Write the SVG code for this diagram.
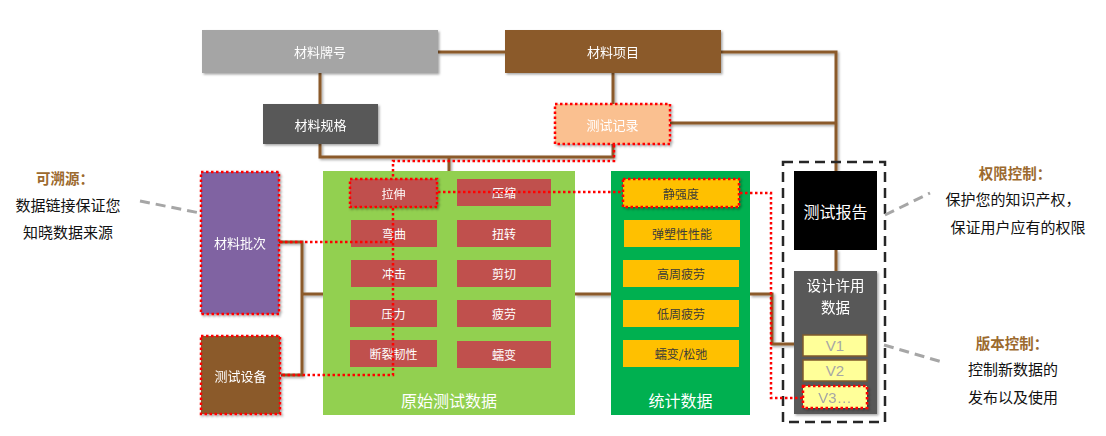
<svg xmlns="http://www.w3.org/2000/svg" width="1106" height="436" viewBox="0 0 1106 436">
<defs>
<filter id="sh" x="-10%" y="-10%" width="130%" height="130%">
<feDropShadow dx="1.5" dy="1.5" stdDeviation="1.2" flood-color="#000" flood-opacity="0.35"/>
</filter>
<filter id="lsh" filterUnits="userSpaceOnUse" x="0" y="0" width="1106" height="436">
<feDropShadow dx="1.5" dy="1.5" stdDeviation="1" flood-color="#000" flood-opacity="0.35"/>
</filter>
<style>
text{font-family:"Noto Sans CJK SC","Microsoft YaHei","Liberation Sans",sans-serif;text-anchor:middle;dominant-baseline:central}
.w{fill:#fff}
.dk{fill:#3a3a3a}
.f13{font-size:13px}
.f12{font-size:12px}
.f16{font-size:16px}
.brown{fill:none;stroke:#8B5A2B;stroke-width:3}
.red{fill:none;stroke:#FF0000;stroke-width:2.5;stroke-dasharray:2.5 2.5}
.ann{fill:none;stroke:#A6A6A6;stroke-width:3;stroke-dasharray:10 6}
.hd{font-size:14.5px;font-weight:bold;fill:#9C6A2E}
.bd{font-size:15px;fill:#111}
.vb{fill:#FFFF99;stroke:#7F5A2B;stroke-width:1.5}
.vt{font-family:"Liberation Sans",Arial,sans-serif;font-size:15px;fill:#A6A6A6}
</style>
</defs>
<rect width="1106" height="436" fill="#fff"/>

<g id="connectors" filter="url(#lsh)">
<path class="brown" d="M438 52H505"/>
<path class="brown" d="M721 52H836V171"/>
<path class="brown" d="M670 123H836"/>
<path class="brown" d="M320 73V104"/>
<path class="brown" d="M613 73V104"/>
<path class="brown" d="M320 144V157H613V144"/>
<path class="brown" d="M449 157V171"/>
<path class="brown" d="M279 242H302V375H281"/>
<path class="brown" d="M302 294H323"/>
<path class="brown" d="M575 294H611"/>
<path class="brown" d="M750 294H772V344H803"/>
<path class="brown" d="M836 250V271"/>
</g>

<g id="report-frame"><rect x="783" y="162" width="102" height="260" fill="none" stroke="#262626" stroke-width="2.5" stroke-dasharray="10 6"/></g>

<g id="n-brand" filter="url(#sh)"><rect x="202" y="30" width="236" height="43" fill="#A5A5A5"/><text class="w f13" x="320" y="51.5">材料牌号</text></g>
<g id="n-item" filter="url(#sh)"><rect x="505" y="30" width="216" height="43" fill="#8B5A2B"/><text class="w f13" x="613" y="51.5">材料项目</text></g>
<g id="n-spec" filter="url(#sh)"><rect x="263" y="104" width="115" height="40" fill="#595959"/><text class="w f13" x="320.5" y="124">材料规格</text></g>
<g id="n-record" filter="url(#sh)"><rect x="555" y="104" width="115" height="40" fill="#FAC090" stroke="#FF0000" stroke-width="2.5" stroke-dasharray="2.5 2.5"/><text class="w f13" x="612.5" y="124">测试记录</text></g>
<g id="n-batch" filter="url(#sh)"><rect x="201" y="172" width="78" height="142" fill="#8064A2" stroke="#FF0000" stroke-width="2.5" stroke-dasharray="2.5 2.5"/><text class="w f13" x="240" y="242">材料批次</text></g>
<g id="n-equip" filter="url(#sh)"><rect x="201" y="336" width="79" height="78" fill="#8B5A2B" stroke="#FF0000" stroke-width="2.5" stroke-dasharray="2.5 2.5"/><text class="w f13" x="240.5" y="375">测试设备</text></g>

<g id="n-raw"><rect x="323" y="171" width="252" height="244" fill="#92D050"/><text class="w f16" x="449" y="400">原始测试数据</text></g>
<g id="n-tension" filter="url(#sh)"><rect x="350" y="179" width="87" height="28" fill="#C0504D" stroke="#FF0000" stroke-width="2.5" stroke-dasharray="2.5 2.5"/><text class="w f12" x="393.5" y="193">拉伸</text></g>
<g id="n-compress"><rect x="457" y="179" width="94" height="27" fill="#C0504D"/><text class="w f12" x="504" y="192.5">压缩</text></g>
<g id="n-bend"><rect x="351" y="220" width="86" height="27" fill="#C0504D"/><text class="w f12" x="394" y="233.5">弯曲</text></g>
<g id="n-torsion"><rect x="457" y="220" width="94" height="27" fill="#C0504D"/><text class="w f12" x="504" y="233.5">扭转</text></g>
<g id="n-impact"><rect x="351" y="260" width="86" height="27" fill="#C0504D"/><text class="w f12" x="394" y="273.5">冲击</text></g>
<g id="n-shear"><rect x="457" y="260" width="94" height="27" fill="#C0504D"/><text class="w f12" x="504" y="273.5">剪切</text></g>
<g id="n-pressure"><rect x="350" y="300" width="87" height="27" fill="#C0504D"/><text class="w f12" x="393.5" y="313.5">压力</text></g>
<g id="n-fatigue"><rect x="457" y="300" width="94" height="27" fill="#C0504D"/><text class="w f12" x="504" y="313.5">疲劳</text></g>
<g id="n-fracture"><rect x="350" y="340" width="87" height="27" fill="#C0504D"/><text class="w f12" x="393.5" y="353.5">断裂韧性</text></g>
<g id="n-creep"><rect x="457" y="341" width="94" height="27" fill="#C0504D"/><text class="w f12" x="504" y="354.5">蠕变</text></g>

<g id="n-stat"><rect x="611" y="171" width="139" height="244" fill="#00B050"/><text class="w f16" x="680.5" y="400">统计数据</text></g>
<g id="n-static" filter="url(#sh)"><rect x="623" y="179" width="116" height="28" fill="#FFC000" stroke="#FF0000" stroke-width="2.5" stroke-dasharray="2.5 2.5"/><text class="dk f12" x="681" y="193">静强度</text></g>
<g id="n-elastoplastic"><rect x="624" y="220" width="116" height="27" fill="#FFC000"/><text class="dk f12" x="682" y="233.5">弹塑性性能</text></g>
<g id="n-hcf"><rect x="623" y="260" width="116" height="27" fill="#FFC000"/><text class="dk f12" x="681" y="273.5">高周疲劳</text></g>
<g id="n-lcf"><rect x="623" y="300" width="116" height="27" fill="#FFC000"/><text class="dk f12" x="681" y="313.5">低周疲劳</text></g>
<g id="n-creeprelax"><rect x="623" y="340" width="116" height="27" fill="#FFC000"/><text class="dk f12" x="681" y="353.5">蠕变/松弛</text></g>

<g id="n-report"><rect x="794" y="171" width="83" height="79" fill="#000"/><text class="w f16" x="835.5" y="210.5">测试报告</text></g>
<g id="n-design" filter="url(#sh)"><rect x="794" y="271" width="83" height="143" fill="#595959"/><text class="w" style="font-size:14.5px" x="835.5" y="284.5">设计许用</text><text class="w" style="font-size:14.5px" x="835.5" y="306">数据</text></g>
<g id="n-v1"><rect class="vb" x="803" y="335" width="64" height="21"/><text class="vt" x="835" y="345.5">V1</text></g>
<g id="n-v2"><rect class="vb" x="803" y="360" width="64" height="21"/><text class="vt" x="835" y="370.5">V2</text></g>
<g id="n-v3" filter="url(#sh)"><rect x="803" y="386" width="64" height="22" fill="#FFFF99" stroke="#FF0000" stroke-width="2.5" stroke-dasharray="2.5 2.5"/><text class="vt" x="835" y="397">V3…</text></g>

<g id="trace-links">
<path class="red" d="M614 145V161H393V179"/>
<path class="red" d="M393 208V375H281"/>
<path class="red" d="M280 242H393"/>
<path class="red" d="M438 192H623"/>
<path class="red" d="M740 193H771V398H803"/>
</g>

<g id="annotations">
<path class="ann" d="M140 201L200 213"/>
<text class="hd" x="65" y="177">可溯源：</text>
<text class="bd" x="68" y="204">数据链接保证您</text>
<text class="bd" x="68" y="231">知晓数据来源</text>
<path class="ann" d="M885 215L930 193"/>
<text class="hd" x="1015" y="172">权限控制：</text>
<text class="bd" x="1013" y="198">保护您的知识产权，</text>
<text class="bd" x="1018" y="226">保证用户应有的权限</text>
<path class="ann" d="M884 345L942 362"/>
<text class="hd" x="1012" y="342">版本控制：</text>
<text class="bd" x="1013" y="368">控制新数据的</text>
<text class="bd" x="1013" y="396">发布以及使用</text>
</g>
</svg>
